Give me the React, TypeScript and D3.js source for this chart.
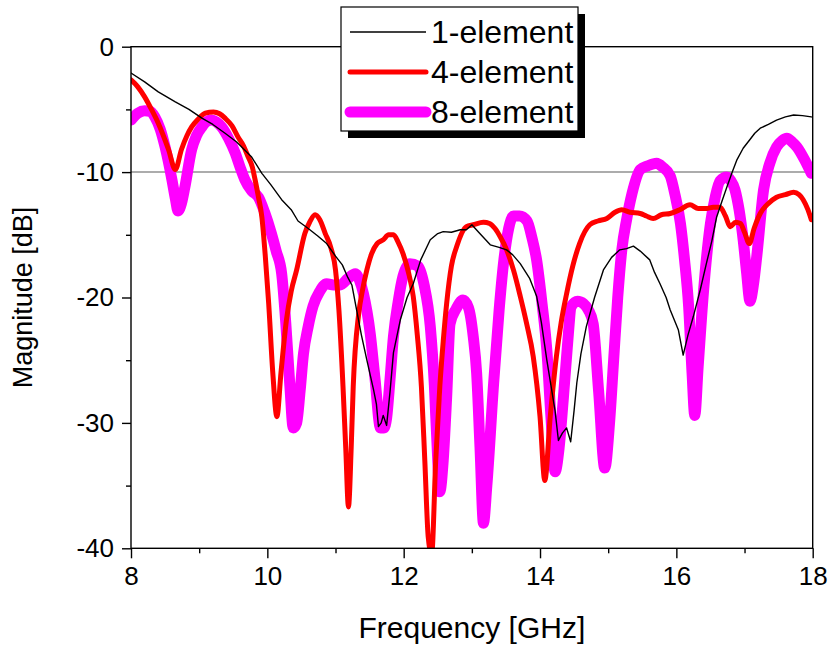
import React, { useEffect, useRef } from "react";
import * as d3 from "d3";

// [frequency GHz, magnitude dB]
const oneElement: [number, number][] = [
  [8.0, -2.1], [8.2, -2.8], [8.4, -3.6], [8.65, -4.4], [8.85, -5.0], [9.04, -5.7],
  [9.2, -6.2], [9.38, -6.9], [9.55, -7.6], [9.77, -8.8], [9.92, -10.1], [10.05, -11.0],
  [10.21, -12.2], [10.35, -13.0], [10.45, -13.9], [10.6, -14.5], [10.74, -15.1],
  [10.87, -15.7], [11.0, -16.7], [11.1, -17.4], [11.18, -18.4], [11.24, -19.0],
  [11.31, -21.0], [11.38, -23.0], [11.46, -25.0], [11.56, -27.4], [11.6, -28.5],
  [11.63, -30.3], [11.67, -30.0], [11.7, -29.4], [11.75, -30.2], [11.8, -27.5],
  [11.85, -24.4], [11.95, -21.8], [12.05, -20.0], [12.14, -18.9], [12.25, -17.0],
  [12.39, -15.4], [12.5, -14.9], [12.58, -14.75], [12.7, -14.8], [12.83, -14.6],
  [12.92, -14.6], [13.0, -14.2], [13.1, -14.8], [13.27, -15.8], [13.4, -16.0],
  [13.51, -16.2], [13.6, -16.6], [13.71, -17.3], [13.85, -18.5], [13.95, -19.9],
  [14.02, -22.0], [14.1, -25.0], [14.16, -27.0], [14.22, -29.0], [14.27, -31.4],
  [14.33, -30.8], [14.39, -30.4], [14.45, -31.5], [14.5, -29.0], [14.54, -26.8],
  [14.6, -24.5], [14.68, -22.3], [14.8, -20.0], [14.93, -17.8], [15.05, -16.8],
  [15.17, -16.2], [15.27, -16.1], [15.37, -15.9], [15.47, -16.3], [15.61, -17.0],
  [15.68, -18.0], [15.76, -18.9], [15.85, -20.0], [15.91, -21.0], [16.03, -22.6],
  [16.1, -24.6], [16.17, -23.0], [16.25, -21.5], [16.35, -19.4], [16.44, -17.3],
  [16.52, -15.5], [16.59, -13.6], [16.67, -12.3], [16.74, -11.2], [16.82, -10.0],
  [16.89, -9.0], [16.98, -8.1], [17.08, -7.4], [17.15, -6.9], [17.23, -6.5],
  [17.35, -6.2], [17.47, -5.85], [17.6, -5.6], [17.72, -5.45], [17.85, -5.5], [17.98, -5.6],
];

const fourElement: [number, number][] = [
  [8.0, -2.65], [8.1, -3.2], [8.2, -4.0], [8.3, -5.0], [8.4, -6.1], [8.55, -8.2],
  [8.65, -9.8], [8.74, -8.2], [8.82, -7.1], [8.89, -6.4], [8.98, -5.8], [9.09, -5.3],
  [9.21, -5.2], [9.3, -5.35], [9.38, -5.7], [9.48, -6.3], [9.57, -7.2], [9.65, -7.9],
  [9.72, -8.8], [9.78, -9.6], [9.82, -10.6], [9.87, -12.0], [9.92, -13.6], [9.97, -16.7],
  [10.02, -20.5], [10.08, -26.0], [10.14, -29.5], [10.2, -26.0], [10.28, -21.8],
  [10.35, -19.5], [10.43, -17.8], [10.55, -14.9], [10.62, -14.0], [10.7, -13.4],
  [10.77, -13.8], [10.85, -14.9], [10.93, -16.0], [11.0, -17.8], [11.05, -21.0],
  [11.11, -27.1], [11.15, -32.0], [11.19, -36.7], [11.23, -32.0], [11.26, -27.1],
  [11.34, -21.3], [11.4, -19.3], [11.46, -17.8], [11.53, -16.5], [11.61, -15.7],
  [11.7, -15.4], [11.78, -15.0], [11.85, -15.0], [11.92, -15.6], [11.99, -16.5],
  [12.07, -18.0], [12.14, -19.9], [12.2, -23.0], [12.26, -27.1], [12.31, -33.0],
  [12.36, -39.1], [12.41, -40.5], [12.47, -33.0], [12.53, -27.1], [12.58, -23.5],
  [12.63, -20.5], [12.7, -17.5], [12.78, -15.9], [12.92, -14.35], [13.02, -14.2],
  [13.17, -14.0], [13.26, -14.1], [13.34, -14.5], [13.42, -15.2], [13.51, -16.2],
  [13.61, -17.8], [13.71, -19.9], [13.8, -22.0], [13.9, -24.7], [14.0, -29.5],
  [14.07, -34.6], [14.15, -29.5], [14.24, -24.7], [14.31, -22.0], [14.39, -19.7],
  [14.48, -17.5], [14.58, -15.7], [14.73, -14.2], [14.85, -13.9], [14.98, -13.7],
  [15.1, -13.2], [15.2, -13.0], [15.32, -13.2], [15.47, -13.3], [15.56, -13.5],
  [15.66, -13.7], [15.78, -13.4], [15.91, -13.3], [16.05, -13.0], [16.2, -12.6],
  [16.32, -12.9], [16.44, -12.9], [16.54, -12.8], [16.64, -12.8], [16.72, -13.5],
  [16.79, -14.35], [16.87, -14.0], [16.94, -14.1], [17.0, -14.8], [17.07, -15.7],
  [17.14, -14.5], [17.23, -13.3], [17.35, -12.5], [17.47, -12.0], [17.6, -11.8],
  [17.72, -11.6], [17.8, -11.8], [17.86, -12.2], [17.93, -13.0], [17.98, -13.8],
];

const eightElement: [number, number][] = [
  [8.0, -5.85], [8.1, -5.3], [8.2, -5.1], [8.28, -5.15], [8.35, -5.6], [8.43, -6.6],
  [8.5, -8.0], [8.6, -10.6], [8.65, -12.1], [8.69, -13.1], [8.74, -12.5], [8.79, -11.2],
  [8.89, -8.2], [8.96, -7.1], [9.04, -6.4], [9.1, -6.0], [9.18, -5.85], [9.25, -6.0],
  [9.33, -6.4], [9.43, -7.3], [9.53, -8.5], [9.6, -9.6], [9.67, -10.6], [9.77, -11.5],
  [9.87, -12.0], [9.96, -13.2], [10.06, -14.9], [10.13, -16.3], [10.21, -18.1],
  [10.27, -22.0], [10.33, -27.0], [10.38, -30.4], [10.43, -30.0], [10.48, -27.5],
  [10.53, -24.5], [10.6, -22.3], [10.67, -20.7], [10.77, -19.5], [10.87, -18.9],
  [10.97, -19.0], [11.07, -19.0], [11.18, -18.5], [11.29, -18.1], [11.35, -18.6],
  [11.41, -19.7], [11.51, -22.9], [11.58, -26.5], [11.66, -30.4], [11.71, -30.4],
  [11.75, -29.6], [11.8, -26.5], [11.85, -23.1], [11.92, -20.3], [11.99, -18.3],
  [12.09, -17.3], [12.21, -17.5], [12.3, -19.0], [12.39, -22.3], [12.45, -27.0],
  [12.5, -33.0], [12.53, -35.5], [12.58, -33.0], [12.63, -28.0], [12.68, -22.1],
  [12.77, -20.9], [12.87, -20.2], [12.95, -20.8], [13.02, -23.1], [13.07, -26.0],
  [13.12, -32.0], [13.17, -38.0], [13.22, -35.0], [13.32, -26.8], [13.4, -21.0],
  [13.47, -17.0], [13.54, -14.5], [13.61, -13.5], [13.7, -13.5], [13.81, -13.9],
  [13.88, -15.2], [13.95, -17.0], [14.03, -20.5], [14.1, -24.2], [14.16, -29.5],
  [14.22, -33.9], [14.28, -32.0], [14.34, -28.2], [14.4, -24.0], [14.46, -20.7],
  [14.55, -20.3], [14.64, -20.5], [14.71, -21.0], [14.78, -22.1], [14.86, -27.5],
  [14.95, -33.6], [15.02, -30.0], [15.08, -25.0], [15.14, -20.0], [15.2, -16.2],
  [15.27, -13.8], [15.35, -11.7], [15.47, -9.8], [15.58, -9.5], [15.71, -9.3],
  [15.8, -9.6], [15.91, -10.3], [15.98, -11.8], [16.06, -14.1], [16.12, -17.0],
  [16.18, -20.7], [16.23, -26.0], [16.27, -29.4], [16.32, -25.5], [16.4, -19.4],
  [16.5, -14.1], [16.57, -12.0], [16.64, -10.7], [16.74, -10.4], [16.8, -10.7],
  [16.86, -11.4], [16.92, -13.0], [16.98, -15.4], [17.03, -18.0], [17.08, -20.3],
  [17.13, -19.0], [17.18, -16.7], [17.28, -11.4], [17.37, -9.3], [17.47, -8.0],
  [17.55, -7.5], [17.62, -7.3], [17.7, -7.6], [17.77, -8.0], [17.88, -9.0], [17.98, -10.1],
];

const xTicks = [8, 10, 12, 14, 16, 18];
const xMinorTicks = [9, 11, 13, 15, 17];
const yTicks = [0, -10, -20, -30, -40];
const yMinorTicks = [-5, -15, -25, -35];
const referenceLevel = -10;

const seriesNames = ["1-element", "4-element", "8-element"];
const seriesColors = ["#000000", "#ff0000", "#ff00ff"];
const seriesWidths = [1.4, 5, 11];

export default function App() {
  const svgRef = useRef<SVGSVGElement | null>(null);

  useEffect(() => {
    const width = 830;
    const height = 647;
    const margin = { top: 46.7, right: 17.3, bottom: 98.7, left: 131 };
    const font = "'Liberation Sans', Arial, sans-serif";

    const svg = d3.select(svgRef.current);
    svg.selectAll("*").remove();

    const x = d3.scaleLinear().domain([8, 18]).range([margin.left, width - margin.right]);
    const y = d3.scaleLinear().domain([-40, 0]).range([height - margin.bottom, margin.top]);

    svg.append("defs")
      .append("clipPath")
      .attr("id", "plot-clip")
      .append("rect")
      .attr("x", x(8))
      .attr("y", y(0))
      .attr("width", x(18) - x(8))
      .attr("height", y(-40) - y(0));

    // -10 dB reference line
    svg.append("line")
      .attr("x1", x(8))
      .attr("x2", x(18))
      .attr("y1", y(referenceLevel))
      .attr("y2", y(referenceLevel))
      .attr("stroke", "#909090")
      .attr("stroke-width", 1.5);

    // curves, thickest first
    const series = [oneElement, fourElement, eightElement];
    const curves = svg.append("g").attr("clip-path", "url(#plot-clip)");
    [2, 1, 0].forEach((i) => {
      const line = d3
        .line<[number, number]>()
        .x((d) => x(d[0]))
        .y((d) => y(d[1]))
        .curve(i === 0 ? d3.curveLinear : d3.curveMonotoneX);
      curves.append("path")
        .attr("d", line(series[i]))
        .attr("fill", "none")
        .attr("stroke", seriesColors[i])
        .attr("stroke-width", seriesWidths[i])
        .attr("stroke-linejoin", "round")
        .attr("stroke-linecap", "round");
    });

    // frame
    svg.append("rect")
      .attr("x", x(8))
      .attr("y", y(0))
      .attr("width", x(18) - x(8))
      .attr("height", y(-40) - y(0))
      .attr("fill", "none")
      .attr("stroke", "#000")
      .attr("stroke-width", 1.4);

    const plain = (d: d3.NumberValue) => String(d);

    // x axis
    const xAxis = svg.append("g")
      .attr("transform", `translate(0,${y(-40)})`)
      .call(d3.axisBottom(x).tickValues(xTicks).tickSize(10).tickPadding(8).tickFormat(plain));
    xAxis.select(".domain").remove();
    xAxis.selectAll("line").attr("stroke-width", 1.4);
    xAxis.selectAll("text").attr("font-size", 26).attr("font-family", font).attr("fill", "#000");
    svg.append("g")
      .attr("transform", `translate(0,${y(-40)})`)
      .call(d3.axisBottom(x).tickValues(xMinorTicks).tickSize(5).tickFormat(() => ""))
      .call((g) => g.select(".domain").remove())
      .selectAll("line").attr("stroke-width", 1.4);

    // y axis
    const yAxis = svg.append("g")
      .attr("transform", `translate(${x(8)},0)`)
      .call(d3.axisLeft(y).tickValues(yTicks).tickSize(9).tickPadding(8).tickFormat(plain));
    yAxis.select(".domain").remove();
    yAxis.selectAll("line").attr("stroke-width", 1.4);
    yAxis.selectAll("text").attr("font-size", 26).attr("font-family", font).attr("fill", "#000");
    svg.append("g")
      .attr("transform", `translate(${x(8)},0)`)
      .call(d3.axisLeft(y).tickValues(yMinorTicks).tickSize(5).tickFormat(() => ""))
      .call((g) => g.select(".domain").remove())
      .selectAll("line").attr("stroke-width", 1.4);

    // axis titles
    svg.append("text")
      .attr("x", (x(8) + x(18)) / 2)
      .attr("y", 638)
      .attr("text-anchor", "middle")
      .attr("font-family", font)
      .attr("font-size", 30)
      .text("Frequency [GHz]");
    svg.append("text")
      .attr("transform", `translate(32,${(y(0) + y(-40)) / 2}) rotate(-90)`)
      .attr("text-anchor", "middle")
      .attr("font-family", font)
      .attr("font-size", 27)
      .text("Magnitude [dB]");

    // legend with drop shadow
    const lg = { x: 341, y: 7, w: 237, h: 124 };
    svg.append("rect")
      .attr("x", lg.x + 7).attr("y", lg.y + 7)
      .attr("width", lg.w).attr("height", lg.h)
      .attr("fill", "#000");
    svg.append("rect")
      .attr("x", lg.x).attr("y", lg.y)
      .attr("width", lg.w).attr("height", lg.h)
      .attr("fill", "#fff")
      .attr("stroke", "#000")
      .attr("stroke-width", 1.2);
    seriesNames.forEach((name, i) => {
      const cy = 32 + i * 40;
      svg.append("line")
        .attr("x1", 350).attr("x2", 426)
        .attr("y1", cy).attr("y2", cy)
        .attr("stroke", seriesColors[i])
        .attr("stroke-width", seriesWidths[i])
        .attr("stroke-linecap", i === 0 ? "butt" : "round");
      svg.append("text")
        .attr("x", 431)
        .attr("y", cy + 11)
        .attr("font-family", font)
        .attr("font-size", 32)
        .text(name);
    });
  }, []);

  return (
    <div style={{ position: "absolute", left: 0, top: 0 }}>
      <svg ref={svgRef} width={830} height={647} style={{ display: "block", background: "#fff" }} />
    </div>
  );
}
